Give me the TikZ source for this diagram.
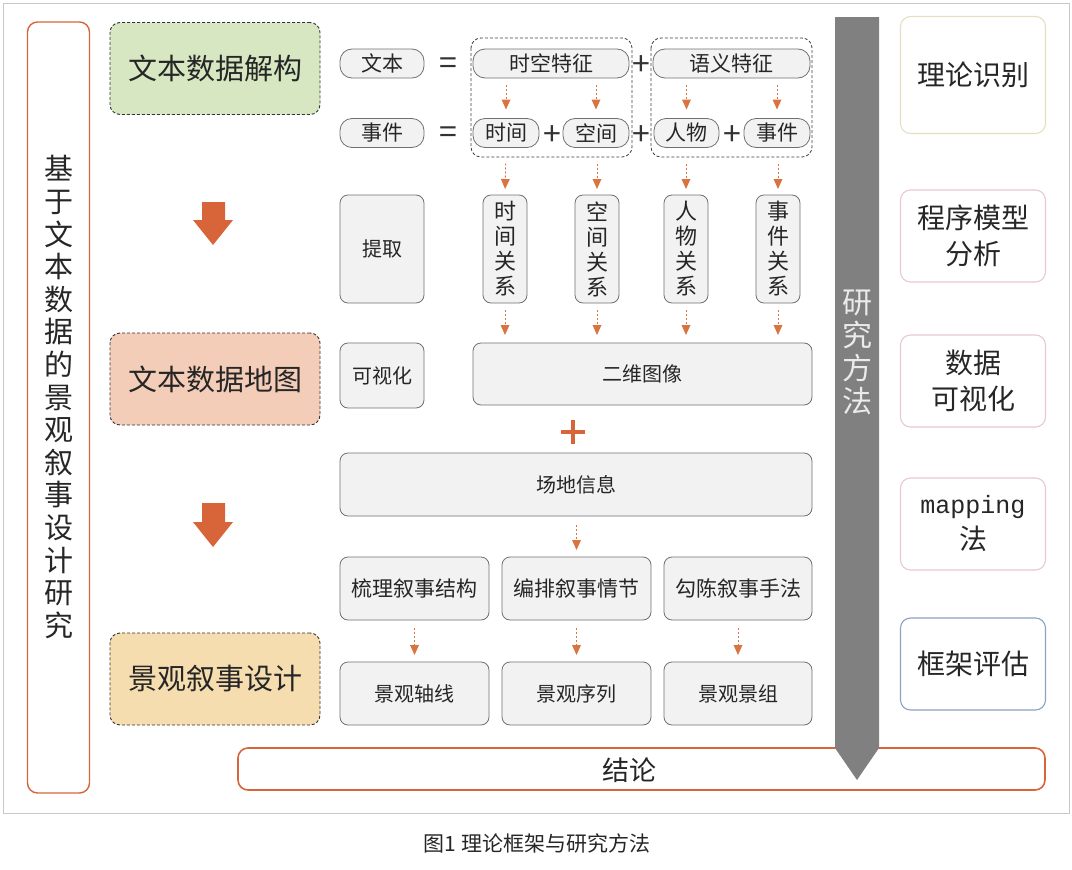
\documentclass[tikz,border=0pt]{standalone}
\usepackage{fontspec}
\setmainfont{Noto Sans CJK SC}
\newfontfamily\mapfont{Liberation Mono}
\usetikzlibrary{arrows.meta,positioning}

\definecolor{frameGray}{HTML}{C8C8C8}
\definecolor{boxFill}{HTML}{F2F2F2}
\definecolor{boxLine}{HTML}{707070}
\definecolor{rustOrange}{HTML}{D8643A}
\definecolor{dashOrange}{HTML}{D9733F}
\definecolor{stageGreen}{HTML}{D6E7C2}
\definecolor{stagePeach}{HTML}{F4CDB8}
\definecolor{stageSand}{HTML}{F6DDB0}
\definecolor{methodGray}{HTML}{808080}
\definecolor{edgeKhaki}{HTML}{E4DFC4}
\definecolor{edgePink}{HTML}{E8CACC}
\definecolor{edgeBlue}{HTML}{8DA2BE}

\begin{document}
\begin{tikzpicture}[x=1pt,y=-1pt,
  gbox/.style={draw=boxLine,fill=boxFill,rounded corners=8pt,line width=0.8pt,
    inner sep=0pt,outer sep=0pt,align=center,text=black!85,font=\fontsize{20}{25}\selectfont},
  pill/.style={gbox,rounded corners=12pt,font=\fontsize{21}{25}\selectfont},
  vbox/.style={gbox,minimum width=44pt,minimum height=108pt,font=\fontsize{22}{25}\selectfont},
  stagebox/.style={draw=black!80,dash pattern=on 3pt off 2pt,rounded corners=10pt,line width=0.9pt,
    minimum width=210pt,minimum height=92pt,inner sep=0pt,text=black!85,font=\fontsize{29}{34}\selectfont},
  methodbox/.style={draw=edgePink,rounded corners=10pt,line width=1.1pt,minimum width=145pt,
    minimum height=92pt,inner sep=0pt,align=center,text=black!85,font=\fontsize{28}{36}\selectfont},
  grp/.style={draw=black!75,dash pattern=on 3pt off 2pt,rounded corners=10pt,line width=0.8pt},
  darr/.style={draw=dashOrange,dash pattern=on 2pt off 2pt,line width=0.8pt,
    -{Triangle[width=9pt,length=10pt,fill=dashOrange,line width=0pt]}},
  sym/.style={inner sep=0pt,text=black!80,font=\fontsize{32}{32}\selectfont}]
\useasboundingbox (0,0) rectangle (1072,870);
\draw[frameGray,line width=0.8pt] (3,3) rectangle (1069,813);

% left column
\node[draw=rustOrange,line width=1.4pt,rounded corners=10pt,minimum width=62pt,minimum height=771pt,inner sep=0pt]
  (theme) at (58.5,407.5) {};
\node[align=center,text=black!85,font=\fontsize{29}{32.6}\selectfont] (themetext) at (58.5,397)
  {基\\于\\文\\本\\数\\据\\的\\景\\观\\叙\\事\\设\\计\\研\\究};

\node[stagebox,fill=stageGreen] (stage1) at (215,68.5) {文本数据解构};
\node[stagebox,fill=stagePeach] (stage2) at (215,379) {文本数据地图};
\node[stagebox,fill=stageSand] (stage3) at (215,679) {景观叙事设计};

\fill[rustOrange] (202,202) -- (225,202) -- (225,220) -- (233,220) -- (213,245) -- (193,220) -- (202,220) -- cycle;
\fill[rustOrange] (202,503) -- (225,503) -- (225,522) -- (233,522) -- (213,547) -- (193,522) -- (202,522) -- cycle;

% rows 1 and 2
\node[pill,minimum width=84pt,minimum height=29pt] (wenben) at (382,63.5) {文本};
\node[sym] (eq1) at (448,66) {=};
\node[pill,minimum width=156pt,minimum height=29pt] (shikong) at (551,63.5) {时空特征};
\node[sym] (plus1) at (641,66) {+};
\node[pill,minimum width=157pt,minimum height=29pt] (yuyi) at (731.5,63.5) {语义特征};

\node[pill,minimum width=84pt,minimum height=29pt] (shijian) at (382,133) {事件};
\node[sym] (eq2) at (448,135.5) {=};
\node[pill,minimum width=66pt,minimum height=29pt] (sj) at (506,133) {时间};
\node[sym] (plus2) at (552,135.5) {+};
\node[pill,minimum width=66pt,minimum height=29pt] (kj) at (596,133) {空间};
\node[sym] (plus3) at (641,135.5) {+};
\node[pill,minimum width=65pt,minimum height=29pt] (rw) at (686.5,133) {人物};
\node[sym] (plus4) at (732,135.5) {+};
\node[pill,minimum width=66pt,minimum height=29pt] (ev) at (777,133) {事件};

\draw[grp] (471,38) rectangle (632,157);
\draw[grp] (651,38) rectangle (812,157);

\draw[darr,shorten <=7pt,shorten >=9pt] (shikong.south -| sj.north) -- (sj.north);
\draw[darr,shorten <=7pt,shorten >=9pt] (shikong.south -| kj.north) -- (kj.north);
\draw[darr,shorten <=7pt,shorten >=9pt] (yuyi.south -| rw.north) -- (rw.north);
\draw[darr,shorten <=7pt,shorten >=9pt] (yuyi.south -| ev.north) -- (ev.north);

% row 3
\node[gbox,minimum width=84pt,minimum height=108pt] (tiqu) at (382,249) {提取};
\node[vbox] (relT) at (505,249) {时\\间\\关\\系};
\node[vbox] (relS) at (597,249) {空\\间\\关\\系};
\node[vbox] (relP) at (686,249) {人\\物\\关\\系};
\node[vbox] (relE) at (778,249) {事\\件\\关\\系};

\draw[darr,shorten <=16pt,shorten >=6pt] (sj.south) -- (relT.north);
\draw[darr,shorten <=16pt,shorten >=6pt] (kj.south -| relS.north) -- (relS.north);
\draw[darr,shorten <=16pt,shorten >=6pt] (rw.south -| relP.north) -- (relP.north);
\draw[darr,shorten <=16pt,shorten >=6pt] (ev.south -| relE.north) -- (relE.north);

% row 4
\node[gbox,minimum width=84pt,minimum height=65pt] (keshi) at (382,375.5) {可视化};
\node[gbox,minimum width=339pt,minimum height=62pt] (erwei) at (642.5,374) {二维图像};

\draw[darr,shorten <=7pt,shorten >=8pt] (relT.south) -- (relT.south |- erwei.north);
\draw[darr,shorten <=7pt,shorten >=8pt] (relS.south) -- (relS.south |- erwei.north);
\draw[darr,shorten <=7pt,shorten >=8pt] (relP.south) -- (relP.south |- erwei.north);
\draw[darr,shorten <=7pt,shorten >=8pt] (relE.south) -- (relE.south |- erwei.north);

\draw[rustOrange,line width=3.5pt] (561,432) -- (585,432) (573,420) -- (573,444);

\node[gbox,minimum width=472pt,minimum height=63pt] (changdi) at (576,484.5) {场地信息};

% rows 5 and 6
\node[gbox,minimum width=149pt,minimum height=63pt,font=\fontsize{21}{25}\selectfont] (shuli) at (414.5,588.5) {梳理叙事结构};
\node[gbox,minimum width=149pt,minimum height=63pt,font=\fontsize{21}{25}\selectfont] (bianpai) at (576.5,588.5) {编排叙事情节};
\node[gbox,minimum width=148pt,minimum height=63pt,font=\fontsize{21}{25}\selectfont] (gouchen) at (738,588.5) {勾陈叙事手法};

\draw[darr,shorten <=9pt,shorten >=7pt] (changdi.south -| bianpai.north) -- (bianpai.north);

\node[gbox,minimum width=149pt,minimum height=63pt] (zhouxian) at (414.5,693.5) {景观轴线};
\node[gbox,minimum width=149pt,minimum height=63pt] (xulie) at (576.5,693.5) {景观序列};
\node[gbox,minimum width=148pt,minimum height=63pt] (jingzu) at (738,693.5) {景观景组};

\draw[darr,shorten <=8pt,shorten >=7pt] (shuli.south) -- (zhouxian.north);
\draw[darr,shorten <=8pt,shorten >=7pt] (bianpai.south) -- (xulie.north);
\draw[darr,shorten <=8pt,shorten >=7pt] (gouchen.south) -- (jingzu.north);

% conclusion and method arrow
\node[draw=rustOrange,line width=1.6pt,rounded corners=10pt,minimum width=807pt,minimum height=42pt,
  inner sep=0pt,text=black!85,font=\fontsize{27}{30}\selectfont] (jielun) at (641.5,769) {};
\node[text=black!85,font=\fontsize{27}{30}\selectfont,inner sep=0pt] (jieluntext) at (629,770) {结论};

\fill[methodGray] (835,17) -- (879,17) -- (879,748) -- (857,780) -- (835,748) -- cycle;
\node[align=center,text=black!8,font=\fontsize{30}{33}\selectfont] (fangfa) at (857,352) {研\\究\\方\\法};

% right column
\node[methodbox,draw=edgeKhaki,minimum height=117pt] (shibie) at (973,75) {理论识别};
\node[methodbox,minimum height=92pt] (moxing) at (973,236) {程序模型\\分析};
\node[methodbox,minimum height=92pt] (shuju) at (973,381) {数据\\可视化};
\node[methodbox,minimum height=92pt] (mapping) at (973,524) {{\mapfont\fontsize{25}{36}\selectfont mapping}\\法};
\node[methodbox,draw=edgeBlue,minimum height=92pt] (pinggu) at (973,664) {框架评估};

\node[text=black!85,font=\fontsize{21}{24}\selectfont] (caption) at (537,843) {图1\ 理论框架与研究方法};
\end{tikzpicture}
\end{document}
